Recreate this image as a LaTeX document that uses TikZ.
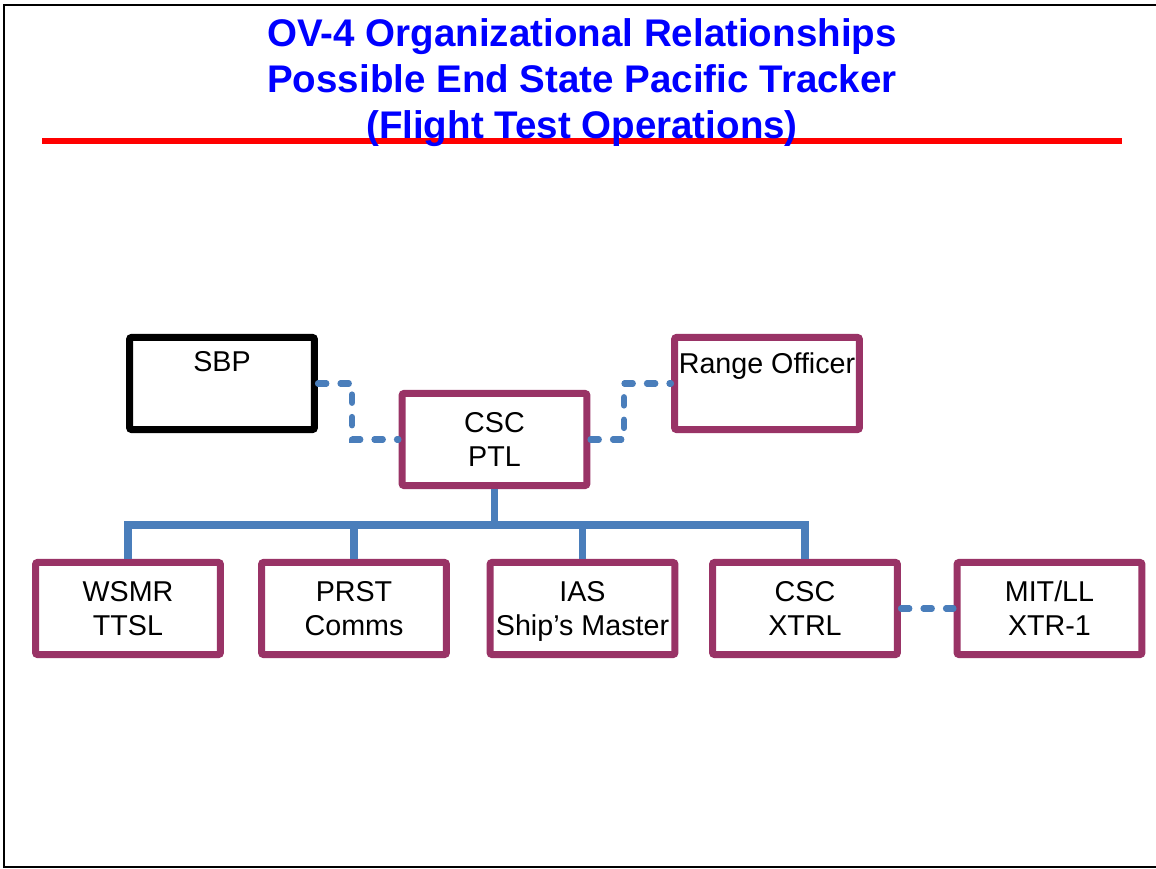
\documentclass[tikz,border=0pt]{standalone}
\usepackage{fontspec}
\setmainfont{Liberation Sans}
\usepackage{tikz}

\definecolor{orgred}{HTML}{993366}
\definecolor{linkblue}{HTML}{4A7EBB}

\begin{document}
\begin{tikzpicture}
[x=0.25mm,y=-0.25mm,
 every node/.style={rectangle,draw=orgred,line width=5pt,rounded corners=1.5pt,
   minimum width=131.5pt,minimum height=65.5pt,inner sep=0pt,align=center,
   font=\fontsize{20.4}{24.2}\selectfont},
 tree/.style={draw=linkblue,line width=5pt},
 link/.style={draw=linkblue,line width=4.3pt,line cap=round,dash pattern=on 6pt off 10pt}]
\useasboundingbox (0,0) rectangle (1156,869);
\draw[line width=1.8pt] (1170,5) -- (4,5) -- (4,867) -- (1170,867);
\draw[red,line width=4.3pt] (42,141) -- (1122,141);
\node[draw=none,font=\bfseries\fontsize{27.4}{32.7}\selectfont,text=blue] (title) at (582,83)
  {OV-4 Organizational Relationships\\Possible End State Pacific Tracker\\(Flight Test Operations)};
\node[draw=black] (sbp) at (222,383.5) {SBP\\\strut};
\node (ro) at (767,383.5) {Range Officer\\[-2pt]\strut};
\node (ptl) at (494.5,439.5) {CSC\\PTL};
\node (wsmr) at (128,608.5) {WSMR\\TTSL};
\node (prst) at (354,608.5) {PRST\\Comms};
\node (ias) at (582.5,608.5) {IAS\\\smash{Ship’s Master}};
\node (xtrl) at (805,608.5) {CSC\\XTRL};
\node (mit) at (1049.5,608.5) {MIT/LL\\XTR-1};
\coordinate (bus) at (494.5,525);
\coordinate (k1) at (352,0);
\coordinate (k2) at (624,0);
\draw[tree] (ptl) -- (bus);
\foreach \to in {wsmr,prst,ias,xtrl}
\draw[tree] (bus) -| (\to);
\draw[link] (sbp.east) -| (k1 |- ptl) -- (ptl.west);
\draw[link] (ptl.east) -| (k2 |- ro) -- (ro.west);
\draw[link] (xtrl) -- (mit);
\end{tikzpicture}
\end{document}
